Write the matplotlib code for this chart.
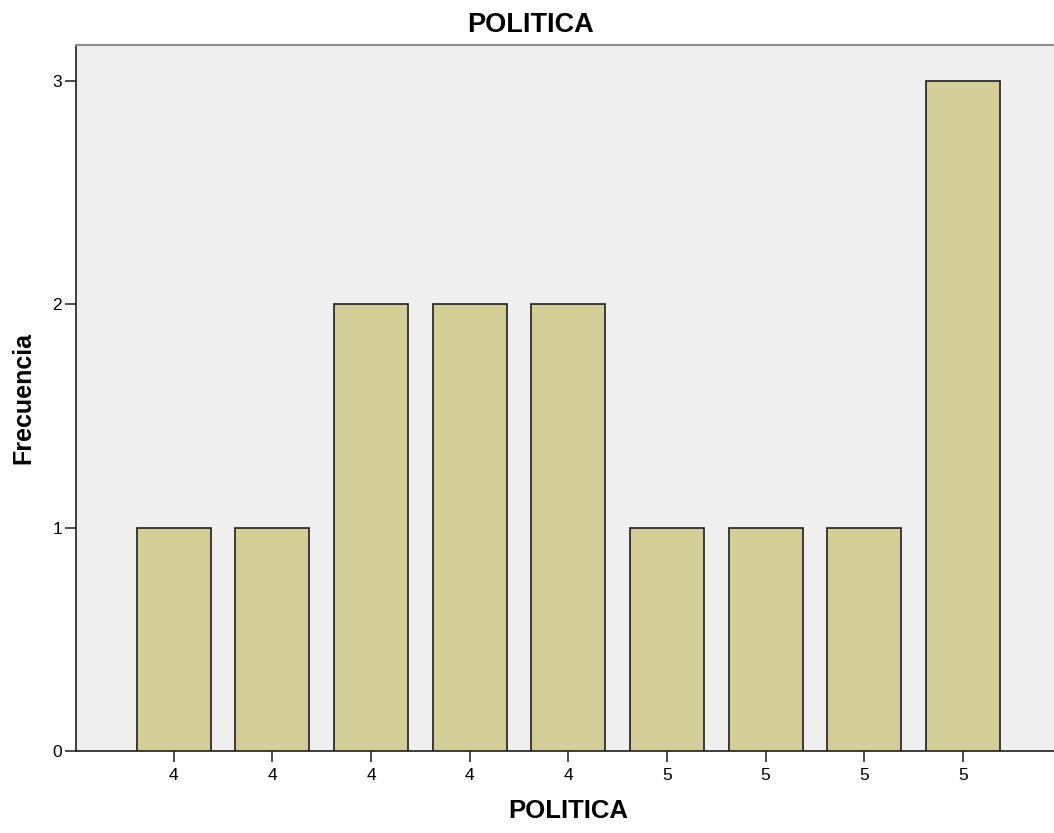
"""Frecuencia de POLITICA: bar chart in SPSS style."""
import matplotlib
matplotlib.use('Agg')
import matplotlib.pyplot as plt

# Category labels and counts, left to right.
categories = ['4', '4', '4', '4', '4', '5', '5', '5', '5']
frecuencia = [1, 1, 2, 2, 2, 1, 1, 1, 3]
y_ticks = [0, 1, 2, 3]

plt.rcParams['font.family'] = ['Liberation Sans', 'DejaVu Sans']

fig = plt.figure(figsize=(10.54, 8.33), dpi=100)
ax = fig.add_axes([0.0721, 0.0984, 0.935, 0.8476])
ax.set_facecolor('#efefef')

positions = list(range(len(categories)))
ax.bar(positions, frecuencia, width=0.75, color='#d3ce98',
       edgecolor='#1e1e1e', linewidth=1.2, zorder=3)

ax.set_xlim(-0.99, 9.0)
ax.set_ylim(0, 3.16)
ax.set_xticks(positions)
ax.set_xticklabels(categories)
ax.set_yticks(y_ticks)

ax.tick_params(axis='both', direction='out', length=8, width=1.1,
               color='#1e1e1e', labelsize=12.5)
ax.tick_params(axis='x', pad=4)
ax.tick_params(axis='y', pad=2)

for side in ('left', 'bottom'):
    ax.spines[side].set_color('#1e1e1e')
    ax.spines[side].set_linewidth(1.2)
ax.spines['top'].set_color('#8c8c8c')
ax.spines['top'].set_linewidth(1.5)
ax.spines['right'].set_visible(False)

# SPSS centres the title on the chart frame, not on the data area
ax.set_title('POLITICA', fontsize=19.5, fontweight='bold', pad=9, x=0.461)
ax.set_xlabel('POLITICA', fontsize=18.5, fontweight='bold', labelpad=12)
ax.set_ylabel('Frecuencia', fontsize=18, fontweight='bold', labelpad=12)

fig.savefig('out.png', dpi=100)
